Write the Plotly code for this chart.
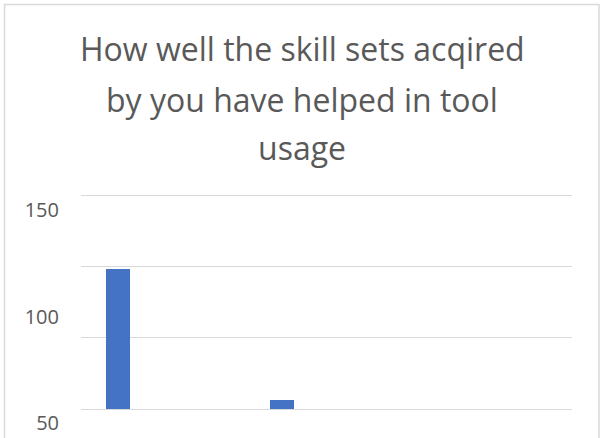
import plotly.graph_objects as go

# Data
categories = ["1", "2", "3"]
values = [98, 6, 0]
grid_ticks = [0, 50, 100, 150]
label_ticks = [50, 100, 150]
label_text = ["50", "100", "150"]
title_lines = ["How well the skill sets acqired", "by you have helped in tool", "usage"]

W, H = 600, 438
L, R, T, B = 81, 28, 191, 0
ph = H - T - B
# gridline scale: 50 units per 71.33 px, zero at y=409
k = 50 / 71.33
y_bot = -(H - 409) * k
y_top = (409 - T) * k
# label scale: 150 at y=210, 50 at y=423
k2 = 100 / 213.0
l_top = 150 + (210 - T) * k2
l_bot = 150 - (H - 210) * k2

def py(y_px):
    return (H - B - y_px) / ph

def px(x_px):
    return (x_px - L) / (W - L - R)

fig = go.Figure()
fig.add_trace(go.Bar(
    x=categories, y=values,
    width=0.1466, offset=-0.347,
    marker=dict(color="#4472C4", line=dict(width=0)),
    showlegend=False, hoverinfo="skip",
))
# invisible trace to carry the labelled axis
fig.add_trace(go.Scatter(x=[categories[0]], y=[100], yaxis="y2", mode="markers",
                         marker=dict(opacity=0), showlegend=False, hoverinfo="skip"))

fig.update_layout(
    width=W, height=H,
    margin=dict(l=L, r=R, t=T, b=B, pad=0),
    paper_bgcolor="white", plot_bgcolor="white",
    font=dict(family="Open Sans", color="#595959"),
    xaxis=dict(type="category", range=[-0.5, 2.5], showticklabels=False,
               showgrid=False, zeroline=False, showline=False, ticks=""),
    yaxis=dict(range=[y_bot, y_top], tickvals=grid_ticks, showticklabels=False,
               showgrid=True, gridcolor="#D9D9D9", gridwidth=1.3, zeroline=False,
               showline=False, ticks=""),
    yaxis2=dict(overlaying="y", side="left", range=[l_bot, l_top],
                tickvals=label_ticks, ticktext=label_text, showgrid=False,
                zeroline=False, showline=False, ticks="",
                ticklabelstandoff=21,
                tickfont=dict(family="Open Sans", size=20, color="#595959")),
    bargap=0,
)

baselines = [58, 110, 157]
for line, base in zip(title_lines, baselines):
    fig.add_annotation(text=line, xref="paper", yref="paper",
                       x=px(302), y=py(base - 10), xanchor="center", yanchor="middle",
                       showarrow=False,
                       font=dict(family="Open Sans", size=32, color="#595959"))

fig.add_shape(type="rect", xref="paper", yref="paper",
              x0=px(4.5), x1=px(599), y0=py(460), y1=py(4.5),
              line=dict(color="#D9D9D9", width=1.5), fillcolor="rgba(0,0,0,0)", layer="below")

fig.write_html("out.html", config={"displayModeBar": False},
               post_script="document.body.style.margin='0px';")
